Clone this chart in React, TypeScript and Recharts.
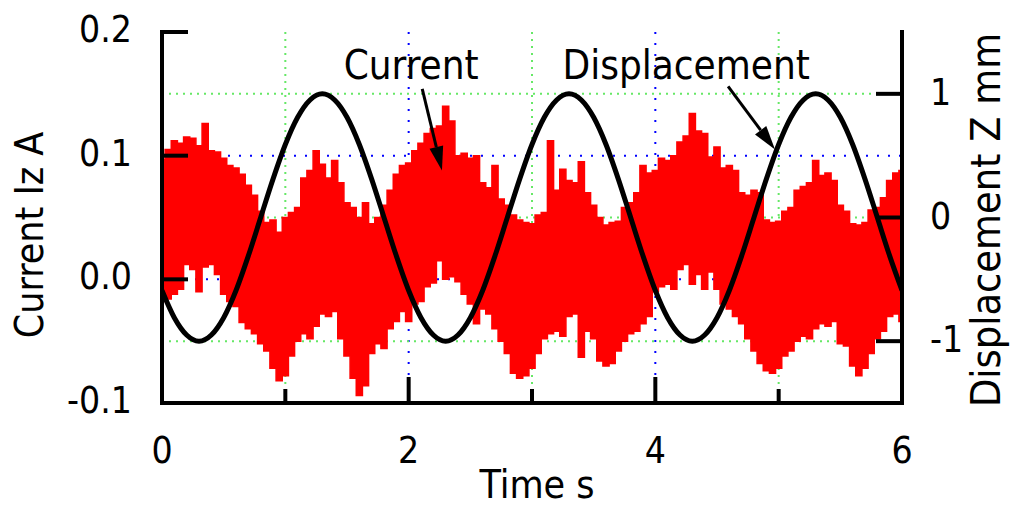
import React from "react";
import {
  ComposedChart,
  Line,
  Area,
  XAxis,
  YAxis,
  CartesianGrid,
  ReferenceLine,
  ReferenceDot,
} from "recharts";

const FONT = "'DejaVu Sans Condensed', 'DejaVu Sans', sans-serif";
const BLUE = "#0000ff";
const GREEN = "#66e866";

const timeTicks = [0, 1, 2, 3, 4, 5, 6];
const currentTicks = [-0.1, 0, 0.1, 0.2];
const dispTicks = [-1, 0, 1];

// current envelope, sampled every 0.05 s (upper / lower excursion of the noisy signal)
const currentHigh = [
  0.097, 0.105, 0.112, 0.110, 0.115, 0.114, 0.108, 0.126, 0.104, 0.103,
  0.098, 0.092, 0.090, 0.085, 0.076, 0.068, 0.055, 0.046, 0.048, 0.038,
  0.050, 0.054, 0.058, 0.082, 0.088, 0.104, 0.093, 0.082, 0.096, 0.078,
  0.062, 0.058, 0.050, 0.062, 0.045, 0.050, 0.060, 0.072, 0.085, 0.092,
  0.094, 0.104, 0.110, 0.118, 0.122, 0.124, 0.140, 0.128, 0.100, 0.102,
  0.098, 0.100, 0.078, 0.074, 0.092, 0.065, 0.060, 0.052, 0.048, 0.046,
  0.045, 0.052, 0.054, 0.112, 0.072, 0.089, 0.080, 0.078, 0.095, 0.070,
  0.060, 0.050, 0.044, 0.046, 0.047, 0.058, 0.062, 0.070, 0.092, 0.086,
  0.088, 0.098, 0.096, 0.100, 0.111, 0.116, 0.134, 0.120, 0.118, 0.099,
  0.107, 0.090, 0.092, 0.088, 0.070, 0.068, 0.072, 0.070, 0.048, 0.046,
  0.047, 0.055, 0.058, 0.072, 0.075, 0.078, 0.096, 0.084, 0.086, 0.080,
  0.060, 0.055, 0.045, 0.044, 0.046, 0.056, 0.058, 0.066, 0.080, 0.086,
  0.088,
];

const currentLow = [
  -0.018, -0.016, -0.012, -0.008, 0.012, 0.008, -0.010, 0.010, 0.012, 0.004,
  -0.012, -0.018, -0.022, -0.035, -0.040, -0.044, -0.052, -0.058, -0.072, -0.082,
  -0.078, -0.062, -0.050, -0.044, -0.048, -0.038, -0.028, -0.030, -0.026, -0.048,
  -0.062, -0.080, -0.094, -0.086, -0.060, -0.052, -0.056, -0.040, -0.034, -0.026,
  -0.034, -0.020, -0.018, -0.006, -0.003, 0.015, 0.000, 0.002, -0.002, -0.012,
  -0.020, -0.036, -0.024, -0.028, -0.040, -0.050, -0.060, -0.076, -0.080, -0.078,
  -0.072, -0.060, -0.048, -0.044, -0.042, -0.046, -0.030, -0.028, -0.063, -0.042,
  -0.048, -0.066, -0.070, -0.068, -0.058, -0.050, -0.044, -0.042, -0.036, -0.030,
  -0.010, -0.006, -0.004, -0.008, 0.008, 0.012, -0.004, 0.004, -0.008, 0.006,
  -0.008, -0.020, -0.024, -0.030, -0.036, -0.048, -0.058, -0.068, -0.074, -0.076,
  -0.072, -0.062, -0.058, -0.050, -0.046, -0.048, -0.040, -0.036, -0.038, -0.034,
  -0.052, -0.054, -0.070, -0.078, -0.072, -0.060, -0.048, -0.042, -0.030, -0.028,
  -0.034,
];

// displacement, sampled every 0.1 s
const displacement = [
  -0.59, -0.81, -0.95, -1.0, -0.95, -0.81, -0.59, -0.31, 0.0, 0.31,
  0.59, 0.81, 0.95, 1.0, 0.95, 0.81, 0.59, 0.31, 0.0, -0.31,
  -0.59, -0.81, -0.95, -1.0, -0.95, -0.81, -0.59, -0.31, 0.0, 0.31,
  0.59, 0.81, 0.95, 1.0, 0.95, 0.81, 0.59, 0.31, 0.0, -0.31,
  -0.59, -0.81, -0.95, -1.0, -0.95, -0.81, -0.59, -0.31, 0.0, 0.31,
  0.59, 0.81, 0.95, 1.0, 0.95, 0.81, 0.59, 0.31, 0.0, -0.31,
  -0.59,
];

// each sample carries the [low, high] swing of the current at that instant
const currentData = currentHigh.map((hi, i) => ({
  t: +(i * 0.05).toFixed(3),
  band: [currentLow[i], hi],
}));

const dispData = displacement.map((z, i) => ({ t: +(i * 0.1).toFixed(2), z }));

const axisLine = { stroke: "#000", strokeWidth: 4, strokeLinecap: "square" as const };

function BottomTick({ x, y, payload }: any) {
  const even = payload.value % 2 === 0;
  return (
    <g>
      <line x1={x} y1={y} x2={x} y2={y - (even ? 26 : 14)} stroke="#000" strokeWidth={4} />
      {even && (
        <text x={x} y={y + 60} textAnchor="middle" fontSize={37} fontFamily={FONT} fill="#000">
          {payload.value}
        </text>
      )}
    </g>
  );
}

function LeftTick({ x, y, payload }: any) {
  return (
    <g>
      <line x1={x} y1={y} x2={x + 26} y2={y} stroke="#000" strokeWidth={4} />
      <text x={x - 30} y={y + 10} textAnchor="end" fontSize={37} fontFamily={FONT} fill="#000">
        {payload.value.toFixed(1)}
      </text>
    </g>
  );
}

function RightTick({ x, y, payload }: any) {
  return (
    <g>
      <line x1={x} y1={y} x2={x - 26} y2={y} stroke="#000" strokeWidth={4} />
      <text x={x + 28} y={y + 11} textAnchor="start" fontSize={37} fontFamily={FONT} fill="#000">
        {payload.value}
      </text>
    </g>
  );
}

// short inward marks mirrored from the opposite axis
function MirrorTickLeft({ x, y }: any) {
  return <line x1={x} y1={y} x2={x + 14} y2={y} stroke="#000" strokeWidth={4} />;
}
function MirrorTickRight({ x, y }: any) {
  return <line x1={x} y1={y} x2={x - 14} y2={y} stroke="#000" strokeWidth={4} />;
}

function Arrow(props: any) {
  const { x1, y1, x2, y2 } = props;
  const a = Math.atan2(y2 - y1, x2 - x1);
  const len = 24;
  const half = 7;
  const bx = x2 - len * Math.cos(a);
  const by = y2 - len * Math.sin(a);
  const px = -Math.sin(a) * half;
  const py = Math.cos(a) * half;
  return (
    <g>
      <line x1={x1} y1={y1} x2={bx} y2={by} stroke="#000" strokeWidth={3} />
      <polygon points={`${x2},${y2} ${bx + px},${by + py} ${bx - px},${by - py}`} fill="#000" />
    </g>
  );
}

function Caption(text: string) {
  return (p: any) => (
    <text x={p.cx} y={p.cy} textAnchor="middle" fontSize={40} fontFamily={FONT} fill="#000">
      {text}
    </text>
  );
}

export default function App() {
  return (
    <div style={{ position: "absolute", left: 0, top: 0, width: 1013, height: 508, background: "#fff" }}>
      <ComposedChart width={1013} height={508} margin={{ top: 32, right: 0, bottom: 0, left: 0 }}>
        <CartesianGrid xAxisId="b" yAxisId="cur" horizontal={false} verticalValues={[2, 4]}
          stroke={BLUE} strokeWidth={2} strokeDasharray="2 9" />
        <CartesianGrid xAxisId="b" yAxisId="cur" horizontal={false} verticalValues={[1, 3, 5]}
          stroke={GREEN} strokeWidth={2} strokeDasharray="2 5" />
        <CartesianGrid xAxisId="b" yAxisId="cur" vertical={false} horizontalValues={[0, 0.1]}
          stroke={BLUE} strokeWidth={2} strokeDasharray="2 9" />
        <CartesianGrid xAxisId="b" yAxisId="disp" vertical={false} horizontalValues={dispTicks}
          stroke={GREEN} strokeWidth={2} strokeDasharray="2 5" />

        <XAxis xAxisId="b" type="number" dataKey="t" domain={[0, 6]} ticks={timeTicks} interval={0}
          allowDataOverflow height={105} tickSize={0} tickMargin={0} tickLine={false}
          axisLine={axisLine} tick={<BottomTick />}
          label={{
            content: ({ viewBox }: any) => (
              <text x={viewBox.x + viewBox.width / 2 + 5} y={viewBox.y + 95} textAnchor="middle"
                fontSize={39} fontFamily={FONT} fill="#000">Time s</text>
            ),
          }} />
        <XAxis xAxisId="top" orientation="top" type="number" domain={[0, 6]} height={0}
          tick={false} tickLine={false} axisLine={axisLine} />

        <YAxis yAxisId="cur" orientation="left" type="number" domain={[-0.1, 0.2]} ticks={currentTicks}
          interval={0} allowDataOverflow width={162} tickSize={0} tickMargin={0} tickLine={false}
          axisLine={axisLine} tick={<LeftTick />}
          label={{
            content: ({ viewBox }: any) => (
              <text x={viewBox.x + 43} y={viewBox.y + 203} transform={`rotate(-90 ${viewBox.x + 43} ${viewBox.y + 203})`}
                textAnchor="middle" fontSize={39} fontFamily={FONT} fill="#000">Current Iz A</text>
            ),
          }} />
        <YAxis yAxisId="disp" orientation="right" type="number" domain={[-1.5, 1.5]} ticks={dispTicks}
          interval={0} allowDataOverflow width={111} tickSize={0} tickMargin={0} tickLine={false}
          axisLine={axisLine} tick={<RightTick />}
          label={{
            content: ({ viewBox }: any) => (
              <text x={viewBox.x + 98} y={viewBox.y + 188} transform={`rotate(-90 ${viewBox.x + 98} ${viewBox.y + 188})`}
                textAnchor="middle" fontSize={41} fontFamily={FONT} fill="#000">Displacement Z mm</text>
            ),
          }} />
        <YAxis yAxisId="dispMirror" orientation="left" mirror type="number" domain={[-1.5, 1.5]}
          ticks={dispTicks} interval={0} width={0} tickSize={0} tickMargin={0} tickLine={false}
          axisLine={false} tick={<MirrorTickLeft />} />
        <YAxis yAxisId="curMirror" orientation="right" mirror type="number" domain={[-0.1, 0.2]}
          ticks={[0, 0.1]} interval={0} width={0} tickSize={0} tickMargin={0} tickLine={false}
          axisLine={false} tick={<MirrorTickRight />} />

        <Area xAxisId="b" yAxisId="cur" data={currentData} dataKey="band" type="step"
          stroke="#ff0000" strokeWidth={1.5} fill="#ff0000" fillOpacity={1} dot={false}
          isAnimationActive={false} />
        <Line xAxisId="b" yAxisId="disp" data={dispData} dataKey="z" type="monotone"
          stroke="#000" strokeWidth={5} dot={false} isAnimationActive={false} />

        <ReferenceLine xAxisId="b" yAxisId="cur" segment={[{ x: 2.11, y: 0.154 }, { x: 2.27, y: 0.088 }]}
          shape={Arrow} />
        <ReferenceLine xAxisId="b" yAxisId="cur" segment={[{ x: 4.59, y: 0.156 }, { x: 4.97, y: 0.105 }]}
          shape={Arrow} />
        <ReferenceDot xAxisId="b" yAxisId="cur" x={2.02} y={0.162} r={0} shape={Caption("Current")} />
        <ReferenceDot xAxisId="b" yAxisId="cur" x={4.25} y={0.162} r={0} shape={Caption("Displacement")} />
      </ComposedChart>
    </div>
  );
}
